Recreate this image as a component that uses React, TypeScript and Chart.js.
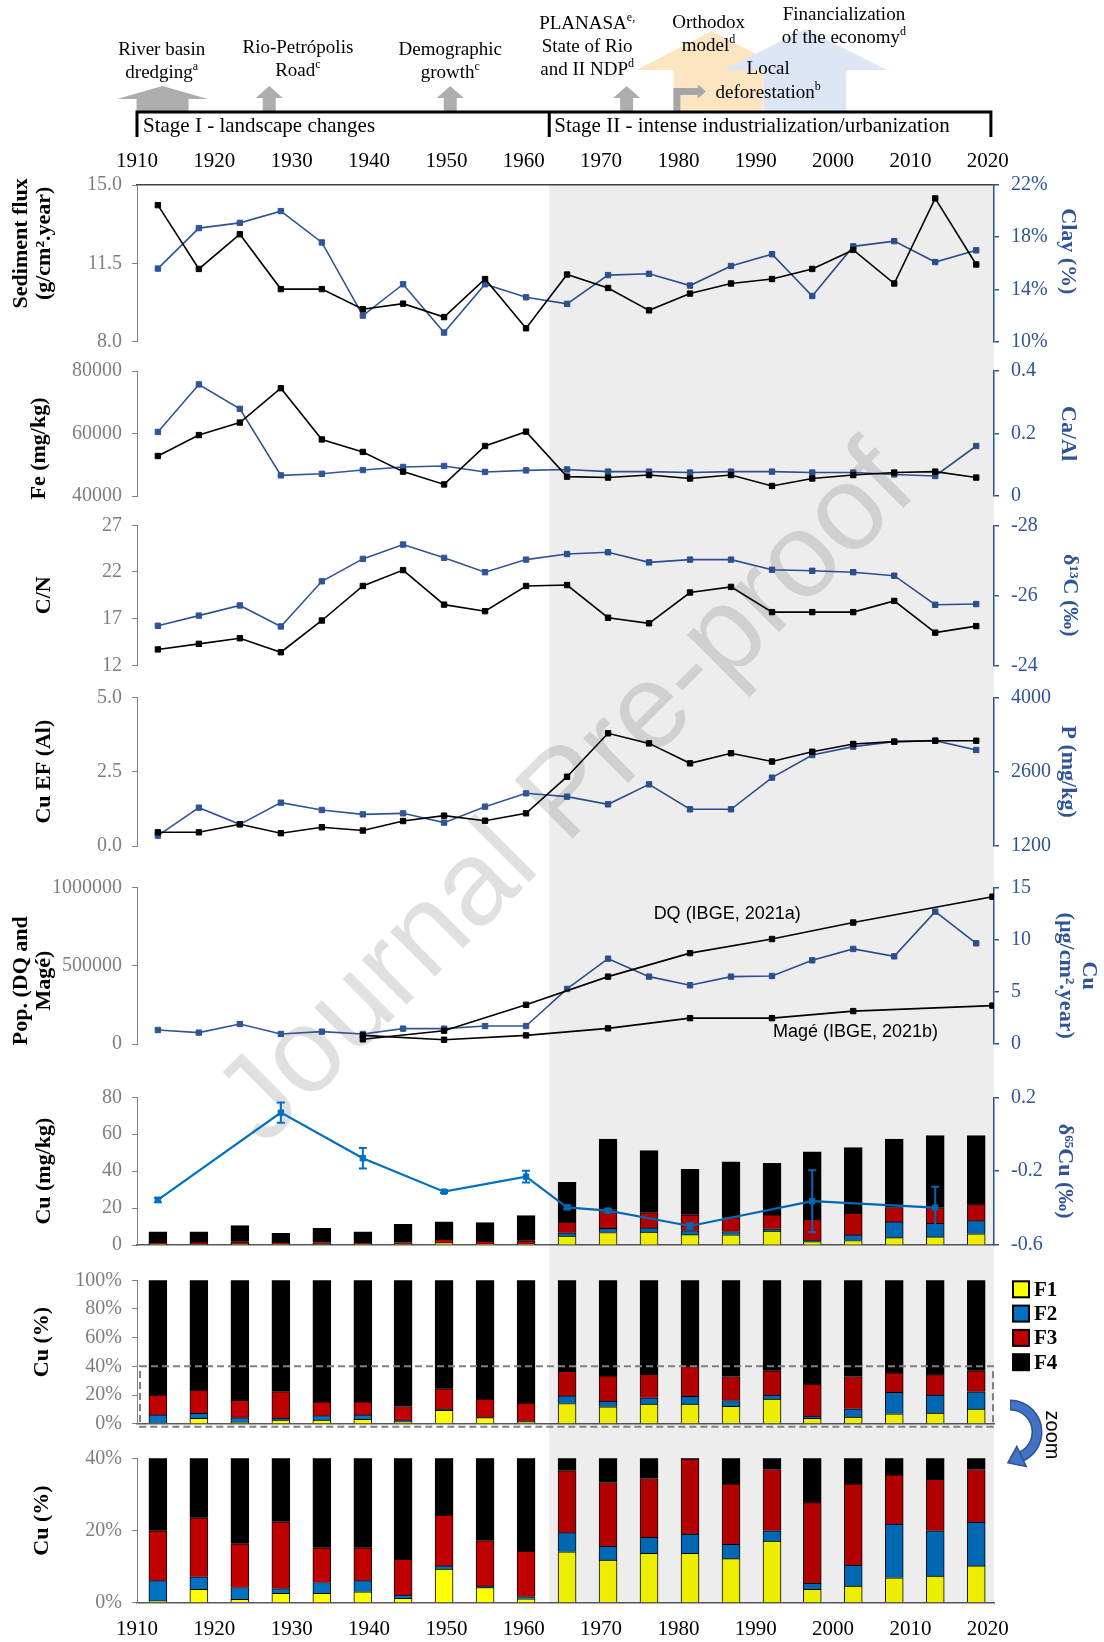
import React, { useEffect, useRef } from "react";
import { Chart, registerables } from "chart.js";

Chart.register(...registerables);

const SERIF = "'Liberation Serif', 'Times New Roman', 'DejaVu Serif', serif";
const SANS = "'Liberation Sans', Arial, 'DejaVu Sans', sans-serif";

const PAGE_W = 1104;
const PAGE_H = 1642;
const AREA_LEFT = 137;
const AREA_RIGHT = 994;

const X_MIN = 1910;
const X_MAX = 2020.8;
const STAGE_SPLIT = 1963.3;
const STAGE_END = 2020.4;

const TICK_GRAY = "#7F7F7F";
const AXIS_GRAY = "#808080";
const BLUE = "#2F5597";
const CU_BLUE = "#0070C0";
const TITLE_SIZE = 22;
const TITLE_LH = TITLE_SIZE * 1.05;

// ---------- data ----------
const yearTicks = [1910, 1920, 1930, 1940, 1950, 1960, 1970, 1980, 1990, 2000, 2010, 2020];
const sampleYears = [1912.7, 1918.0, 1923.3, 1928.6, 1933.9, 1939.2, 1944.4, 1949.7, 1955.0, 1960.3, 1965.6, 1970.9, 1976.2, 1981.5, 1986.8, 1992.1, 1997.3, 2002.6, 2007.9, 2013.2, 2018.5];

const sedimentFlux = [14.1, 11.25, 12.8, 10.35, 10.35, 9.45, 9.7, 9.1, 10.8, 8.6, 11.0, 10.4, 9.4, 10.15, 10.6, 10.8, 11.25, 12.1, 10.6, 14.4, 11.45];
const clayPercent = [15.6, 18.7, 19.1, 20.0, 17.6, 12.0, 14.4, 10.7, 14.4, 13.4, 12.9, 15.1, 15.2, 14.3, 15.8, 16.7, 13.5, 17.3, 17.7, 16.1, 17.0];
const sedimentTicks = [8, 11.5, 15];
const clayTicks = [10, 14, 18, 22];

const feMgKg = [52800, 59500, 63500, 74500, 58100, 54100, 47800, 43700, 56000, 60600, 46200, 45900, 46700, 45600, 46700, 43200, 45600, 46700, 47500, 47800, 45900];
const caAl = [0.205, 0.357, 0.279, 0.066, 0.071, 0.083, 0.093, 0.096, 0.077, 0.082, 0.085, 0.078, 0.078, 0.075, 0.078, 0.078, 0.075, 0.075, 0.069, 0.064, 0.16];
const feTicks = [40000, 60000, 80000];
const caAlTicks = [0, 0.2, 0.4];

const cnRatio = [13.7, 14.3, 14.9, 13.4, 16.8, 20.5, 22.2, 18.5, 17.8, 20.5, 20.6, 17.1, 16.5, 19.8, 20.4, 17.7, 17.7, 17.7, 18.9, 15.5, 16.2];
const d13C = [-25.13, -25.42, -25.71, -25.11, -26.4, -27.04, -27.45, -27.07, -26.66, -27.02, -27.18, -27.23, -26.94, -27.02, -27.02, -26.73, -26.7, -26.66, -26.56, -25.73, -25.75];
const cnTicks = [12, 17, 22, 27];
const d13CTicks = [-28, -26, -24];

const cuEF = [0.46, 0.46, 0.73, 0.43, 0.63, 0.52, 0.84, 1.02, 0.85, 1.1, 2.33, 3.79, 3.45, 2.78, 3.12, 2.84, 3.17, 3.43, 3.51, 3.54, 3.54];
const phosphorus = [1395, 1922, 1608, 2016, 1878, 1796, 1815, 1640, 1941, 2192, 2129, 1985, 2361, 1891, 1891, 2487, 2914, 3071, 3165, 3184, 3008];
const cuEFTicks = [0, 2.5, 5];
const pTicks = [1200, 2600, 4000];

const censusYears = [1939.2, 1949.7, 1960.3, 1970.9, 1981.5, 1992.1, 2002.6, 2020.6];
const popDQ = [30000, 85000, 250000, 430000, 580000, 670000, 775000, 940000];
const popMage = [55000, 27000, 55000, 100000, 165000, 165000, 210000, 245000];
const cuFlux = [1.34, 1.09, 1.91, 0.96, 1.18, 0.96, 1.47, 1.47, 1.72, 1.72, 5.27, 8.17, 6.45, 5.62, 6.45, 6.51, 8.01, 9.1, 8.39, 12.67, 9.64];
const popTicks = [0, 500000, 1000000];
const cuFluxTicks = [0, 5, 10, 15];

const cuTotal = [7.2, 7.2, 10.5, 6.3, 9.0, 7.2, 11.2, 12.6, 12.1, 15.9, 34.0, 57.4, 51.1, 41.0, 45.1, 44.2, 50.4, 52.7, 57.4, 59.2, 59.2];
const d65Cu = [-0.356, null, null, 0.117, null, -0.13, null, -0.311, null, -0.23, -0.396, -0.414, null, -0.497, null, null, -0.362, null, null, -0.398, null];
const d65CuErr = [0.012, null, null, 0.055, null, 0.056, null, 0.008, null, 0.032, 0.01, 0.01, null, 0.015, null, null, 0.167, null, null, 0.113, null];
const cuTicks = [0, 20, 40, 60, 80];
const d65Ticks = [-0.6, -0.2, 0.2];

const fractionLabels = ["F1", "F2", "F3", "F4"];
const fractionColors = ["#FFFF00", "#0070C0", "#C00000", "#000000"];
const f1Pct = [0.5, 3.7, 0.9, 2.6, 2.6, 3.0, 1.2, 9.3, 4.2, 1.1, 14.1, 11.8, 13.7, 13.7, 12.2, 17.1, 3.7, 4.6, 6.9, 7.4, 10.2];
const f2Pct = [5.6, 3.5, 3.3, 1.3, 3.0, 3.1, 0.9, 0.9, 0.4, 0.6, 5.3, 3.9, 4.4, 5.3, 4.0, 2.8, 1.7, 5.8, 14.9, 12.5, 12.1];
const f3Pct = [13.8, 16.3, 12.1, 18.5, 9.6, 9.1, 9.9, 14.1, 12.6, 12.6, 17.2, 17.6, 16.3, 20.8, 16.7, 17.0, 22.3, 22.5, 13.6, 14.3, 14.6];
const f4Pct = [80.1, 76.5, 83.7, 77.6, 84.8, 84.8, 88.0, 75.7, 82.8, 85.7, 63.4, 66.7, 65.6, 60.2, 67.1, 63.1, 72.3, 67.1, 64.6, 65.8, 63.1];
const pctTicks = [0, 20, 40, 60, 80, 100];
const zoomPctTicks = [0, 20, 40];
const ZOOM_LIMIT = 40;

// ---------- layout ----------
const PANELS = [
  { top: 0, bottom: 356, areaTop: 185, areaBottom: 341.7 },
  { top: 356, bottom: 510, areaTop: 371, areaBottom: 496 },
  { top: 510, bottom: 680, areaTop: 525.3, areaBottom: 665.3 },
  { top: 680, bottom: 866, areaTop: 697.3, areaBottom: 846 },
  { top: 866, bottom: 1070, areaTop: 887.3, areaBottom: 1044 },
  { top: 1070, bottom: 1262, areaTop: 1097.3, areaBottom: 1245 },
  { top: 1262, bottom: 1440, areaTop: 1280.3, areaBottom: 1423.7 },
  { top: 1440, bottom: 1642, areaTop: 1458.3, areaBottom: 1602.7 },
];

const pts = (xs: number[], ys: any[]) =>
  xs.map((x, i) => ({ x, y: ys[i] })).filter((p) => p.y !== null && p.y !== undefined);

const noPad = (s: any) => {
  s.paddingTop = 0;
  s.paddingBottom = 0;
  s.paddingLeft = 0;
  s.paddingRight = 0;
};

// move an axis title along the axis by dy pixels (title still drawn by Chart.js)
const shiftTitle = (s: any, dy: number) => {
  if (!dy || s.__titleShifted) return;
  s.__titleShifted = true;
  const orig = s.drawTitle.bind(s);
  s.drawTitle = () => {
    const ctx = s.ctx;
    ctx.save();
    ctx.translate(0, dy);
    orig();
    ctx.restore();
  };
};

function leftAxis(p: any) {
  return {
    type: "linear",
    position: "left",
    min: p.min,
    max: p.max,
    reverse: !!p.reverse,
    stacked: !!p.stacked,
    afterBuildTicks: (s: any) => {
      s.ticks = p.ticks.map((v: number) => ({ value: v }));
    },
    afterFit: (s: any) => {
      s.width = AREA_LEFT;
      noPad(s);
      shiftTitle(s, p.titleDy || 0);
    },
    ticks: { color: TICK_GRAY, font: { family: SERIF, size: 20 }, padding: 10, callback: (v: any) => p.fmt(Number(v)) },
    grid: { drawOnChartArea: false, drawTicks: true, tickLength: 5, color: AXIS_GRAY, lineWidth: 1 },
    border: { display: true, color: AXIS_GRAY, width: 1 },
    title: {
      display: true,
      text: p.title,
      color: "#000",
      font: { family: SERIF, size: TITLE_SIZE, weight: "bold", lineHeight: 1.05 },
      padding: { top: p.titleX - TITLE_LH / 2, bottom: 0 },
    },
  };
}

function rightAxis(p: any) {
  return {
    type: "linear",
    position: "right",
    min: p.min,
    max: p.max,
    reverse: !!p.reverse,
    stacked: false,
    afterBuildTicks: (s: any) => {
      s.ticks = p.ticks.map((v: number) => ({ value: v }));
    },
    afterFit: (s: any) => {
      s.width = PAGE_W - AREA_RIGHT;
      noPad(s);
      shiftTitle(s, p.titleDy || 0);
    },
    ticks: { color: BLUE, font: { family: SERIF, size: 20 }, padding: 12, callback: (v: any) => p.fmt(Number(v)) },
    grid: { drawOnChartArea: false, drawTicks: true, tickLength: 5, color: BLUE, lineWidth: 1.5 },
    border: { display: true, color: BLUE, width: 1.5 },
    title: {
      display: true,
      text: p.title,
      color: BLUE,
      font: { family: SERIF, size: TITLE_SIZE, weight: "bold", lineHeight: 1.05 },
      padding: { top: PAGE_W - p.titleX - TITLE_LH / 2, bottom: 0 },
    },
  };
}

const hiddenX = { type: "linear", min: X_MIN, max: X_MAX, display: false, offset: false };

function baseLineX(stacked: boolean) {
  return {
    type: "linear",
    position: "bottom",
    min: X_MIN,
    max: X_MAX,
    offset: false,
    stacked,
    ticks: { display: false },
    grid: { display: false, drawTicks: false },
    border: { display: true, color: "#595959", width: 1.5 },
    afterFit: (s: any) => {
      s.height = 0;
      noPad(s);
    },
  };
}

function yearAxis(position: "top" | "bottom", height: number, padding: number, stacked: boolean) {
  return {
    type: "linear",
    position,
    min: X_MIN,
    max: X_MAX,
    offset: false,
    stacked,
    afterBuildTicks: (s: any) => {
      s.ticks = yearTicks.map((v) => ({ value: v }));
    },
    afterFit: (s: any) => {
      s.height = height;
      noPad(s);
    },
    ticks: { color: "#000", font: { family: SERIF, size: 21 }, padding, maxRotation: 0, autoSkip: false, callback: (v: any) => String(v) },
    grid: { display: false, drawTicks: false },
    border: { display: true, color: position === "top" ? "#404040" : "#595959", width: 1.5 },
  };
}

function lineDs(label: string, xs: number[], ys: any[], color: string, axis: string, extra: any = {}) {
  return {
    type: "line",
    label,
    data: pts(xs, ys),
    yAxisID: axis,
    borderColor: color,
    backgroundColor: color,
    borderWidth: 1.6,
    pointStyle: "rect",
    pointRadius: 3.8,
    pointBorderWidth: 1,
    pointBackgroundColor: color,
    pointBorderColor: color,
    tension: 0,
    fill: false,
    ...extra,
  };
}

// ---------- plugins ----------
const shadePlugin = {
  id: "stageShade",
  afterDatasetsDraw(chart: any, _a: any, opts: any) {
    const { ctx, chartArea, scales } = chart;
    const x0 = scales.x.getPixelForValue(STAGE_SPLIT);
    const y0 = opts && opts.fromArea ? chartArea.top : 0;
    const y1 = opts && opts.toArea ? chartArea.bottom : chart.height;
    ctx.save();
    ctx.fillStyle = "rgba(0,0,0,0.07)";
    ctx.fillRect(x0, y0, chartArea.right - x0, y1 - y0);
    ctx.restore();
  },
};

function supText(ctx: any, main: string, sup: string, cx: number, cy: number) {
  ctx.font = `19px ${SERIF}`;
  const w1 = ctx.measureText(main).width;
  ctx.font = `12px ${SERIF}`;
  const w2 = sup ? ctx.measureText(sup).width : 0;
  const x0 = cx - (w1 + w2) / 2;
  ctx.textAlign = "left";
  ctx.textBaseline = "middle";
  ctx.font = `19px ${SERIF}`;
  ctx.fillText(main, x0, cy);
  if (sup) {
    ctx.font = `12px ${SERIF}`;
    ctx.fillText(sup, x0 + w1, cy - 6);
  }
}

const eventLabels: any[] = [
  { year: 1913.2, lines: [["River basin", "", 50], ["dredging", "a", 73]] },
  { year: 1930.8, lines: [["Rio-Petrópolis", "", 48], ["Road", "c", 71]] },
  { year: 1950.5, lines: [["Demographic", "", 50], ["growth", "c", 73]] },
  { year: 1968.2, lines: [["PLANASA", "e,", 24], ["State of Rio", "", 47], ["and II NDP", "d", 70]] },
  { year: 1983.9, lines: [["Orthodox", "", 23], ["model", "d", 46]] },
  { year: 2001.4, lines: [["Financialization", "", 15], ["of the economy", "d", 38]] },
  { year: 1991.6, lines: [["Local", "", 69], ["deforestation", "b", 93]] },
];

const topDecorPlugin = {
  id: "topDecor",
  afterDraw(chart: any) {
    const { ctx, scales } = chart;
    const px = (yr: number) => scales.x.getPixelForValue(yr);
    ctx.save();
    const poly = (points: number[][], fill: string) => {
      ctx.beginPath();
      points.forEach((p, i) => (i ? ctx.lineTo(p[0], p[1]) : ctx.moveTo(p[0], p[1])));
      ctx.closePath();
      ctx.fillStyle = fill;
      ctx.fill();
    };
    const upArrow = (cx: number, apex: number, base: number, bottom: number, hl: number, hr: number, sl: number, sr: number, fill: string) =>
      poly(
        [
          [cx, apex],
          [cx + hr, base],
          [cx + sr, base],
          [cx + sr, bottom],
          [cx - sl, bottom],
          [cx - sl, base],
          [cx - hl, base],
        ],
        fill
      );
    upArrow(px(1913.3), 86, 99, 112, 45.5, 45.5, 26, 26, "#ADADAD");
    [1927.1, 1950.5, 1973.3].forEach((yr) => upArrow(px(yr), 86, 98, 112, 13.5, 13.5, 6.5, 6.5, "#ADADAD"));
    upArrow(px(1984.3), 31, 70, 111, 75, 75, 38, 51, "#FCE5C0");
    upArrow(px(1996.4), 29, 70, 111, 82, 82, 42, 41, "#DCE6F4");
    const bx = px(1979.8);
    poly(
      [
        [bx - 3.5, 112],
        [bx - 3.5, 88],
        [bx + 21, 88],
        [bx + 21, 84.5],
        [bx + 29, 91.5],
        [bx + 21, 98.5],
        [bx + 21, 95],
        [bx + 3.5, 95],
        [bx + 3.5, 112],
      ],
      "#A6A6A6"
    );
    ctx.strokeStyle = "#000";
    ctx.lineWidth = 3;
    ctx.beginPath();
    ctx.moveTo(px(X_MIN), 137);
    ctx.lineTo(px(X_MIN), 112);
    ctx.lineTo(px(STAGE_END), 112);
    ctx.lineTo(px(STAGE_END), 137);
    ctx.moveTo(px(STAGE_SPLIT), 112);
    ctx.lineTo(px(STAGE_SPLIT), 137);
    ctx.stroke();
    ctx.fillStyle = "#000";
    ctx.font = `21px ${SERIF}`;
    ctx.textAlign = "left";
    ctx.textBaseline = "middle";
    ctx.fillText("Stage I - landscape changes", px(X_MIN) + 6, 126);
    ctx.fillText("Stage II - intense industrialization/urbanization", px(STAGE_SPLIT) + 5, 126);
    eventLabels.forEach((ev) => {
      ev.lines.forEach((ln: any) => supText(ctx, ln[0], ln[1], px(ev.year), ln[2]));
    });
    ctx.restore();
  },
};

const popLabelPlugin = {
  id: "popLabels",
  afterDraw(chart: any) {
    const { ctx, scales } = chart;
    ctx.save();
    ctx.fillStyle = "#000";
    ctx.font = `18px ${SANS}`;
    ctx.textAlign = "center";
    ctx.textBaseline = "middle";
    ctx.fillText("DQ (IBGE, 2021a)", scales.x.getPixelForValue(1986.3), scales.y.getPixelForValue(830000));
    ctx.fillText("Magé (IBGE, 2021b)", scales.x.getPixelForValue(2002.9), scales.y.getPixelForValue(77000));
    ctx.restore();
  },
};

const errorBarPlugin = {
  id: "errorBars",
  afterDatasetsDraw(chart: any) {
    const { ctx, scales } = chart;
    ctx.save();
    ctx.strokeStyle = CU_BLUE;
    ctx.lineWidth = 2;
    sampleYears.forEach((yr, i) => {
      const v = d65Cu[i];
      const e = d65CuErr[i];
      if (v === null || e === null) return;
      const x = scales.x.getPixelForValue(yr);
      const yt = scales.y1.getPixelForValue((v as number) + (e as number));
      const yb = scales.y1.getPixelForValue((v as number) - (e as number));
      ctx.beginPath();
      ctx.moveTo(x, yt);
      ctx.lineTo(x, yb);
      ctx.moveTo(x - 4, yt);
      ctx.lineTo(x + 4, yt);
      ctx.moveTo(x - 4, yb);
      ctx.lineTo(x + 4, yb);
      ctx.stroke();
    });
    ctx.restore();
  },
};

function drawZoomArrow(ctx: any, canvasTop: number) {
  ctx.save();
  ctx.translate(0, -canvasTop);
  const cx = 1010;
  const cy = 1432;
  const r = 27;
  const a0 = -Math.PI / 2;
  const a1 = Math.PI * 0.36;
  ctx.lineCap = "butt";
  ctx.beginPath();
  ctx.arc(cx, cy, r, a0, a1);
  ctx.strokeStyle = "#2F528F";
  ctx.lineWidth = 11;
  ctx.stroke();
  ctx.beginPath();
  ctx.arc(cx, cy, r, a0 + 0.03, a1);
  ctx.strokeStyle = "#4472C4";
  ctx.lineWidth = 8;
  ctx.stroke();
  const ex = cx + r * Math.cos(a1);
  const ey = cy + r * Math.sin(a1);
  const tx = -Math.sin(a1);
  const ty = Math.cos(a1);
  const nx = Math.cos(a1);
  const ny = Math.sin(a1);
  ctx.beginPath();
  ctx.moveTo(ex + tx * 15, ey + ty * 15);
  ctx.lineTo(ex + nx * 11, ey + ny * 11);
  ctx.lineTo(ex - nx * 11, ey - ny * 11);
  ctx.closePath();
  ctx.fillStyle = "#4472C4";
  ctx.fill();
  ctx.strokeStyle = "#2F528F";
  ctx.lineWidth = 1.5;
  ctx.stroke();
  ctx.translate(1052, 1435);
  ctx.rotate(Math.PI / 2);
  ctx.font = `20px ${SANS}`;
  ctx.fillStyle = "#000";
  ctx.textAlign = "center";
  ctx.textBaseline = "middle";
  ctx.fillText("zoom", 0, 0);
  ctx.restore();
}

const fractionDecorPlugin = {
  id: "fractionDecor",
  afterDraw(chart: any) {
    const { ctx, chartArea, scales } = chart;
    const canvasTop = PANELS[6].top;
    ctx.save();
    ctx.strokeStyle = "#808080";
    ctx.lineWidth = 2;
    ctx.setLineDash([7, 4]);
    const yT = scales.y.getPixelForValue(ZOOM_LIMIT);
    const yB = scales.y.getPixelForValue(0) + 3;
    ctx.strokeRect(chartArea.left + 3, yT, chartArea.right - chartArea.left - 4, yB - yT);
    ctx.setLineDash([]);
    chart.data.datasets.forEach((ds: any, i: number) => {
      const cy = chartArea.top + 9 + i * 24.3;
      const bx = chartArea.right + 19;
      ctx.fillStyle = ds.backgroundColor;
      ctx.fillRect(bx, cy - 8, 16, 16);
      ctx.strokeStyle = "#000";
      ctx.lineWidth = 2;
      ctx.strokeRect(bx, cy - 8, 16, 16);
      ctx.fillStyle = "#000";
      ctx.font = `bold 21px ${SERIF}`;
      ctx.textAlign = "left";
      ctx.textBaseline = "middle";
      ctx.fillText(ds.label, bx + 21, cy + 1);
    });
    ctx.restore();
    drawZoomArrow(ctx, canvasTop);
  },
};

const zoomArrowPlugin = {
  id: "zoomArrowTail",
  afterDraw(chart: any) {
    drawZoomArrow(chart.ctx, PANELS[7].top);
  },
};

// ---------- configs ----------
function baseOptions(panel: any, padTop: number, padBottom: number, padRight: number, shade: any, scales: any) {
  return {
    responsive: false,
    maintainAspectRatio: false,
    animation: false,
    events: [],
    layout: { autoPadding: false, padding: { top: padTop, bottom: padBottom, left: 0, right: padRight } },
    plugins: { legend: { display: false }, tooltip: { enabled: false }, stageShade: shade },
    scales,
  };
}

function fractionDatasets(scaleByTotal: boolean) {
  const pcts = [f1Pct, f2Pct, f3Pct, f4Pct];
  return pcts.map((pct, k) => ({
    type: "bar",
    label: fractionLabels[k],
    data: sampleYears.map((x, i) => ({ x, y: scaleByTotal ? (cuTotal[i] * pct[i]) / 100 : pct[i] })),
    backgroundColor: fractionColors[k],
    borderColor: "#000",
    borderWidth: 1,
    barThickness: 18,
    yAxisID: "y",
    clip: 0,
  }));
}

const builders: ((p: any) => any)[] = [
  (p) => ({
    type: "line",
    data: {
      datasets: [
        lineDs("Sediment flux", sampleYears, sedimentFlux, "#000", "y"),
        lineDs("Clay", sampleYears, clayPercent, BLUE, "y1"),
      ],
    },
    options: baseOptions(p, 0, p.bottom - p.areaBottom, 0, { fromArea: true }, {
      x: yearAxis("top", p.areaTop - p.top, 11.4, false),
      y: leftAxis({ min: 8, max: 15, ticks: sedimentTicks, fmt: (v: number) => v.toFixed(1), title: ["Sediment flux", "(g/cm².year)"], titleX: 21, titleDy: -20 }),
      y1: rightAxis({ min: 10, max: 22, ticks: clayTicks, fmt: (v: number) => v + "%", title: "Clay (%)", titleX: 1068, titleDy: -12 }),
    }),
    plugins: [shadePlugin, topDecorPlugin],
  }),
  (p) => ({
    type: "line",
    data: {
      datasets: [lineDs("Fe", sampleYears, feMgKg, "#000", "y"), lineDs("Ca/Al", sampleYears, caAl, BLUE, "y1")],
    },
    options: baseOptions(p, p.areaTop - p.top, p.bottom - p.areaBottom, 0, {}, {
      x: hiddenX,
      y: leftAxis({ min: 40000, max: 80000, ticks: feTicks, fmt: (v: number) => String(v), title: "Fe (mg/kg)", titleX: 39, titleDy: 15 }),
      y1: rightAxis({ min: 0, max: 0.4, ticks: caAlTicks, fmt: (v: number) => String(v), title: "Ca/Al", titleX: 1068 }),
    }),
    plugins: [shadePlugin],
  }),
  (p) => ({
    type: "line",
    data: {
      datasets: [lineDs("C/N", sampleYears, cnRatio, "#000", "y"), lineDs("δ13C", sampleYears, d13C, BLUE, "y1")],
    },
    options: baseOptions(p, p.areaTop - p.top, p.bottom - p.areaBottom, 0, {}, {
      x: hiddenX,
      y: leftAxis({ min: 12, max: 27, ticks: cnTicks, fmt: (v: number) => String(v), title: "C/N", titleX: 44 }),
      y1: rightAxis({ min: -28, max: -24, reverse: true, ticks: d13CTicks, fmt: (v: number) => String(v), title: "δ¹³C (‰)", titleX: 1070 }),
    }),
    plugins: [shadePlugin],
  }),
  (p) => ({
    type: "line",
    data: {
      datasets: [lineDs("Cu EF", sampleYears, cuEF, "#000", "y"), lineDs("P", sampleYears, phosphorus, BLUE, "y1")],
    },
    options: baseOptions(p, p.areaTop - p.top, p.bottom - p.areaBottom, 0, {}, {
      x: hiddenX,
      y: leftAxis({ min: 0, max: 5, ticks: cuEFTicks, fmt: (v: number) => v.toFixed(1), title: "Cu EF (Al)", titleX: 44 }),
      y1: rightAxis({ min: 1200, max: 4000, ticks: pTicks, fmt: (v: number) => String(v), title: "P (mg/kg)", titleX: 1068 }),
    }),
    plugins: [shadePlugin],
  }),
  (p) => ({
    type: "line",
    data: {
      datasets: [
        lineDs("DQ", censusYears, popDQ, "#000", "y"),
        lineDs("Magé", censusYears, popMage, "#000", "y"),
        lineDs("Cu flux", sampleYears, cuFlux, BLUE, "y1"),
      ],
    },
    options: baseOptions(p, p.areaTop - p.top, p.bottom - p.areaBottom, 0, {}, {
      x: hiddenX,
      y: leftAxis({ min: 0, max: 1000000, ticks: popTicks, fmt: (v: number) => String(v), title: ["Pop. (DQ and", "Magé)"], titleX: 21, titleDy: 15 }),
      y1: rightAxis({ min: 0, max: 15, ticks: cuFluxTicks, fmt: (v: number) => String(v), title: ["Cu", "(µg/cm².year)"], titleX: 1089, titleDy: 10 }),
    }),
    plugins: [shadePlugin, popLabelPlugin],
  }),
  (p) => ({
    type: "bar",
    data: {
      datasets: [
        lineDs("δ65Cu", sampleYears, d65Cu, CU_BLUE, "y1", { borderWidth: 2.2, order: -1, pointRadius: 3.8 }),
        ...fractionDatasets(true),
      ],
    },
    options: baseOptions(p, p.areaTop - p.top, p.bottom - p.areaBottom, 0, {}, {
      x: baseLineX(true),
      y: leftAxis({ min: 0, max: 80, ticks: cuTicks, fmt: (v: number) => String(v), title: "Cu (mg/kg)", titleX: 44, stacked: true }),
      y1: rightAxis({ min: -0.6, max: 0.2, ticks: d65Ticks, fmt: (v: number) => String(v), title: "δ⁶⁵Cu (‰)", titleX: 1065 }),
    }),
    plugins: [errorBarPlugin, shadePlugin],
  }),
  (p) => ({
    type: "bar",
    data: { datasets: fractionDatasets(false) },
    options: baseOptions(p, p.areaTop - p.top, p.bottom - p.areaBottom, PAGE_W - AREA_RIGHT, {}, {
      x: baseLineX(true),
      y: leftAxis({ min: 0, max: 100, ticks: pctTicks, fmt: (v: number) => v + "%", title: "Cu (%)", titleX: 42, stacked: true, titleDy: -10 }),
    }),
    plugins: [shadePlugin, fractionDecorPlugin],
  }),
  (p) => ({
    type: "bar",
    data: { datasets: fractionDatasets(false) },
    options: baseOptions(p, p.areaTop - p.top, 0, PAGE_W - AREA_RIGHT, { toArea: true }, {
      x: yearAxis("bottom", p.bottom - p.areaBottom, 13.7, true),
      y: leftAxis({ min: 0, max: ZOOM_LIMIT, ticks: zoomPctTicks, fmt: (v: number) => v + "%", title: "Cu (%)", titleX: 42, stacked: true, titleDy: -10 }),
    }),
    plugins: [shadePlugin, zoomArrowPlugin],
  }),
];

function Panel({ index }: { index: number }) {
  const ref = useRef<HTMLCanvasElement>(null);
  const p = PANELS[index];
  const h = p.bottom - p.top;
  useEffect(() => {
    const chart = new Chart(ref.current as HTMLCanvasElement, builders[index](p));
    return () => chart.destroy();
  }, [index]);
  return (
    <canvas
      ref={ref}
      width={PAGE_W}
      height={h}
      style={{ position: "absolute", left: 0, top: p.top, width: PAGE_W, height: h, display: "block" }}
    />
  );
}

export default function App() {
  Chart.defaults.font.family = SERIF;
  return (
    <div style={{ position: "absolute", left: 0, top: 0, width: PAGE_W, height: PAGE_H, background: "#fff", overflow: "hidden" }}>
      <div
        style={{
          position: "absolute",
          left: 562,
          top: 790,
          transform: "translate(-50%, -50%) rotate(-45deg)",
          font: `120px ${SANS}`,
          color: "rgba(0,0,0,0.12)",
          whiteSpace: "nowrap",
          pointerEvents: "none",
        }}
      >
        Journal Pre-proof
      </div>
      {PANELS.map((_, i) => (
        <Panel key={i} index={i} />
      ))}
    </div>
  );
}
